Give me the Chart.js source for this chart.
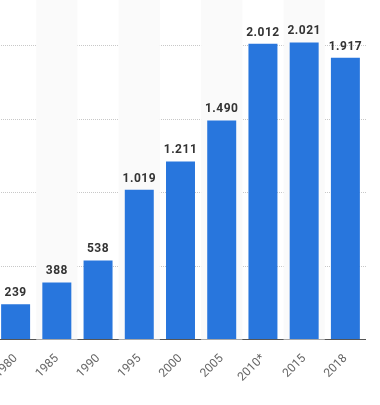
<!DOCTYPE html>
<html>
<head>
<meta charset="utf-8">
<script src="https://cdn.jsdelivr.net/npm/chart.js@4/dist/chart.umd.min.js"></script>
<style>
  html, body { margin: 0; padding: 0; background: #fff; overflow: hidden; }
  #box { position: absolute; left: -5px; top: -30px; width: 371px; height: 435px; }
</style>
</head>
<body>
<div id="box"><canvas id="grafico"></canvas></div>
<script>
const anos = ['1980', '1985', '1990', '1995', '2000', '2005', '2010*', '2015', '2018']
const valores = [239, 388, 538, 1019, 1211, 1490, 2012, 2021, 1917]
const eixo_y = { min: 0, max: 2500, passo: 500 }

const formatar = v => String(v).replace(/\B(?=(\d{3})+(?!\d))/g, '.')

// faixas cinza nas colunas alternadas
const faixas = {
  id: 'faixas',
  beforeDatasetsDraw(chart) {
    const { ctx, chartArea, scales } = chart
    const x = scales.x
    const larg = x.width / anos.length
    ctx.save()
    ctx.fillStyle = '#fafafa'
    anos.forEach((a, i) => {
      if (i % 2 === 1) {
        const cx = x.getPixelForValue(i)
        ctx.fillRect(cx - larg / 2, chartArea.top, larg, chartArea.bottom - chartArea.top)
      }
    })
    ctx.restore()
  }
}

// rótulos com os valores em cima das barras
const rotulos = {
  id: 'rotulos',
  afterDatasetsDraw(chart) {
    const { ctx } = chart
    const meta = chart.getDatasetMeta(0)
    ctx.save()
    ctx.font = 'bold 12px Roboto'
    ctx.fillStyle = '#333'
    ctx.textAlign = 'center'
    ctx.textBaseline = 'alphabetic'
    ctx.letterSpacing = '0.5px'
    meta.data.forEach((barra, i) => {
      ctx.fillText(formatar(valores[i]), barra.x, barra.y - 8)
    })
    ctx.restore()
  }
}

new Chart(document.getElementById('grafico'), {
  type: 'bar',
  data: {
    labels: anos,
    datasets: [{
      data: valores,
      backgroundColor: '#2876dd',
      barPercentage: 0.703,
      categoryPercentage: 1
    }]
  },
  options: {
    responsive: true,
    maintainAspectRatio: false,
    animation: false,
    layout: { padding: { top: 2, left: 0, right: 0, bottom: 0 } },
    plugins: { legend: { display: false }, tooltip: { enabled: false } },
    scales: {
      x: {
        grid: { display: false, drawTicks: false },
        border: { display: true, color: '#555', width: 1 },
        ticks: {
          color: '#666',
          font: { family: 'Roboto', size: 12 },
          minRotation: 45,
          maxRotation: 45,
          padding: 12
        },
        afterFit: s => {
          s.height = 65.5
          s.paddingLeft = 0
          s.paddingRight = 0
        }
      },
      y: {
        min: eixo_y.min,
        max: eixo_y.max,
        ticks: { display: false, stepSize: eixo_y.passo },
        border: { display: false, dash: [1, 1] },
        grid: { color: '#c8c8c8', drawTicks: false },
        afterFit: s => {
          s.width = 0
          s.paddingTop = 0
          s.paddingBottom = 0
        }
      }
    }
  },
  plugins: [faixas, rotulos]
})
</script>
</body>
</html>
